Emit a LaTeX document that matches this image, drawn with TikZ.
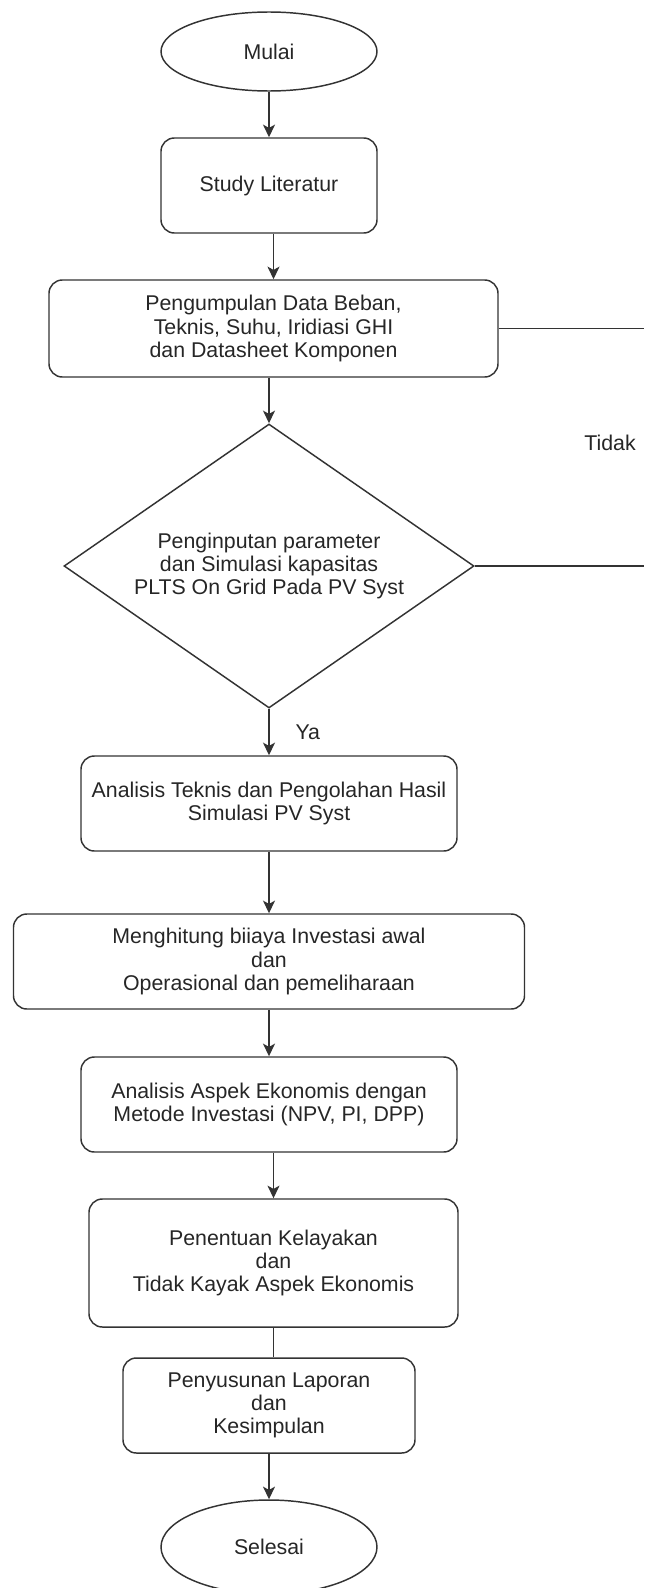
\documentclass[tikz,border=0pt]{standalone}
\usepackage{fontspec}
\setmainfont{Liberation Sans}
\usetikzlibrary{shapes.geometric,arrows.meta}
\definecolor{garis}{HTML}{333333}
\tikzset{
  proses/.style={draw=garis, line width=1.1pt, rectangle, rounded corners=10pt,
    align=center, inner sep=0pt, minimum height=71.25pt},
  terminal/.style={draw=garis, line width=1.1pt, ellipse, minimum width=162pt, inner sep=0pt},
  keputusan/.style={draw=garis, line width=1.1pt, diamond, aspect=1.44, inner sep=0pt, align=center},
  panah/.style={draw=garis, line width=1.1pt, -{Stealth[length=9.5pt,width=9pt,inset=2.5pt]}},
  garislurus/.style={draw=garis, line width=1.1pt},
}
\begin{document}
\begin{tikzpicture}[x=0.75pt, y=-0.75pt, font=\fontsize{16}{17.5}\selectfont, text=black!85]
    \useasboundingbox (0,0) rectangle (644,1588);
    % alur utama
    \node[terminal, minimum height=59.25pt] (mulai) at (269,51.5) {Mulai};
    \node[proses, minimum width=162pt] (studi) at (269,185.5) {Study Literatur};
    \node[proses, minimum width=336.75pt, minimum height=72.75pt] (data) at (273.5,328.5)
      {Pengumpulan Data Beban,\\ Teknis, Suhu, Iridiasi GHI\\ dan Datasheet Komponen};
    \node[keputusan, minimum width=307.5pt, minimum height=213pt] (simulasi) at (269,566)
      {Penginputan parameter\\ dan Simulasi kapasitas\\ PLTS On Grid Pada PV Syst};
    \node[proses, minimum width=282pt] (teknis) at (269,803.5)
      {Analisis Teknis dan Pengolahan Hasil\\ Simulasi PV Syst};
    \node[proses, minimum width=383.25pt] (biaya) at (269,961.5)
      {Menghitung biiaya Investasi awal\\ dan\\ Operasional dan pemeliharaan};
    \node[proses, minimum width=282pt] (ekonomi) at (269,1104.5)
      {Analisis Aspek Ekonomis dengan\\ Metode Investasi (NPV, PI, DPP)};
    \node[proses, minimum width=276.75pt, minimum height=96pt] (kelayakan) at (273.5,1263)
      {Penentuan Kelayakan\\ dan\\ Tidak Kayak Aspek Ekonomis};
    \node[proses, minimum width=219pt] (laporan) at (269,1405.5)
      {Penyusunan Laporan\\ dan\\ Kesimpulan};
    \node[terminal, minimum height=70.5pt] (selesai) at (269,1547) {Selesai};

    % panah
    \draw[panah] (mulai) -- (studi);
    \draw[panah] (studi.south -| data.north) -- (data.north);
    \draw[panah] (data.south -| simulasi.north) -- (simulasi.north);
    \draw[panah] (simulasi.south) -- (teknis.north)
      node[midway, anchor=west, xshift=16pt] (ya) {Ya};
    \draw[panah] (teknis) -- (biaya);
    \draw[panah] (biaya) -- (ekonomi);
    \draw[panah] (ekonomi.south -| kelayakan.north) -- (kelayakan.north);
    \draw[garislurus] (kelayakan.south) -- (kelayakan.south |- laporan.north);
    \draw[panah] (laporan) -- (selesai);

    % cabang tidak
    \coordinate (tepi1) at (644,328.5);
    \coordinate (tepi2) at (644,566);
    \draw[garislurus] (data.east) -- (tepi1);
    \draw[garislurus] (simulasi.east) -- (tepi2);
    \node (tidak) at (610,443) {Tidak};
\end{tikzpicture}
\end{document}
